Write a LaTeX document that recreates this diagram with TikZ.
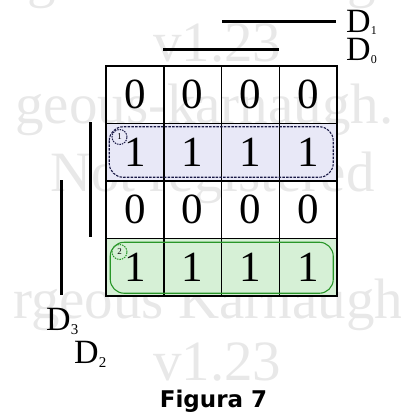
\documentclass[tikz,border=0pt]{standalone}
\usepackage{fontspec}
\setmainfont{Liberation Serif}
\newfontfamily\titlefont{DejaVu Sans}
\definecolor{lav}{RGB}{232,232,247}
\definecolor{navy}{RGB}{25,25,70}
\definecolor{lgreen}{RGB}{214,240,214}
\definecolor{dgreen}{RGB}{40,150,40}
\definecolor{wm}{RGB}{232,232,232}
\tikzset{
  cell/.style={draw=black, line width=1.5pt, minimum width=57.75pt, minimum height=57.5pt, inner sep=0pt, font=\fontsize{43}{43}\selectfont},
  wmark/.style={text=wm, anchor=base west, inner sep=0pt, font=\fontsize{57}{57}\selectfont},
  bar/.style={line width=3pt},
  dlabel/.style={anchor=base west, inner sep=0pt, font=\fontsize{34}{34}\selectfont},
  loopA/.style={draw=navy, line width=1.1pt, dash pattern=on 2.5pt off 1.2pt, rounded corners=14pt},
  loopB/.style={draw=dgreen, line width=1.1pt, rounded corners=14pt},
  tagA/.style={circle, draw=navy, line width=1pt, dash pattern=on 1.5pt off 1pt, minimum size=15pt, inner sep=0pt, font=\fontsize{9}{9}\selectfont},
  tagB/.style={circle, draw=dgreen, line width=1pt, dash pattern=on 1.5pt off 1pt, minimum size=15pt, inner sep=0pt, font=\fontsize{9}{9}\selectfont},
  title/.style={anchor=base, inner sep=0pt, font=\titlefont\bfseries\fontsize{23}{23}\selectfont}
}
\begin{document}
\begin{tikzpicture}[x=1pt,y=-1pt]
\useasboundingbox (0,0) rectangle (400,412);
\begin{scope}
  \clip (0,0) rectangle (400,412);
  \node[wmark] (w1) at (-60,-3) {Gorgeous-Karnaugh};
  \node[wmark] (w2) at (153,62) {v1.23};
  \node[wmark] (w3) at (15,123) {geous-karnaugh.};
  \node[wmark] (w4) at (50,191) {Not registered};
  \node[wmark] (w5) at (13,318) {rgeous Karnaugh};
  \node[wmark] (w6) at (153,380) {v1.23};
\end{scope}
\foreach \r/\v/\f in {0/0/none,1/1/lav,2/0/none,3/1/lgreen}
  \foreach \c in {0,...,3}
    \node[cell, fill=\f] (c\r\c) at ({134.875+57.75*\c},{94.75+57.5*\r}) {\v};
\draw[loopA] ([shift={(4,4)}]c10.north west) rectangle ([shift={(-4.5,-4.5)}]c13.south east);
\draw[loopB] ([shift={(5,4.5)}]c30.north west) rectangle ([shift={(-4.5,-3.5)}]c33.south east);
\node[tagA] (t1) at (119.5,137) {1};
\node[tagB] (t2) at (119.5,252) {2};
\coordinate (b1s) at (222,22); \coordinate (b1e) at (336,22);
\coordinate (b0s) at (163,50); \coordinate (b0e) at (279,50);
\coordinate (b2s) at (90,122); \coordinate (b2e) at (90,237);
\coordinate (b3s) at (61,180); \coordinate (b3e) at (61,295);
\draw[bar] (b1s) -- (b1e);
\draw[bar] (b0s) -- (b0e);
\draw[bar] (b2s) -- (b2e);
\draw[bar] (b3s) -- (b3e);
\node[dlabel] (d1) at (346,33) {D\raisebox{-2pt}{\fontsize{12}{12}\selectfont 1}};
\node[dlabel] (d0) at (346,60) {D\raisebox{-3pt}{\fontsize{12}{12}\selectfont 0}};
\node[dlabel] (d3) at (46,330) {D\raisebox{-4pt}{\fontsize{15}{15}\selectfont 3}};
\node[dlabel] (d2) at (74,363) {D\raisebox{-4pt}{\fontsize{15}{15}\selectfont 2}};
\node[title] (fig) at (213.5,407) {Figura 7};
\end{tikzpicture}
\end{document}
